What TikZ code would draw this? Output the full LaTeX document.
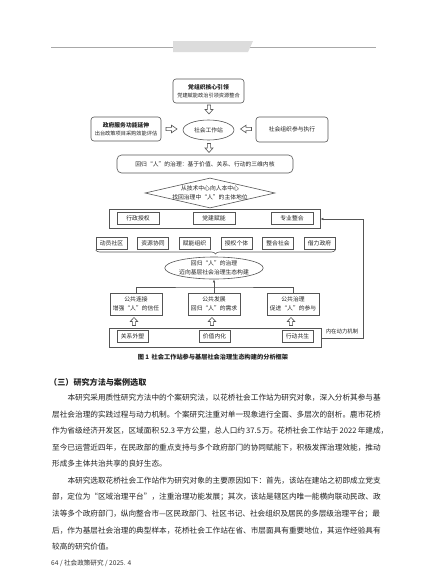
\documentclass[tikz,border=0pt]{standalone}
\usepackage{fontspec}
\setmainfont{Liberation Serif}
\newfontfamily\cjk{Noto Sans CJK SC}
\usetikzlibrary{shapes.geometric,decorations.pathreplacing,arrows.meta,calc}
\XeTeXlinebreaklocale "zh"
\XeTeXlinebreakskip=0pt plus 1pt
\definecolor{dgray}{HTML}{555555}
\definecolor{txt}{HTML}{222222}
\definecolor{rule}{HTML}{A8A8A8}
\definecolor{tab}{HTML}{DCDCDC}
\newcommand{\bodyline}[1]{\makebox[321pt][s]{#1}}
\newcommand{\bodyindent}[1]{\makebox[305.7pt][s]{#1}}
\begin{document}
\begin{tikzpicture}[x=1pt,y=-1pt,font=\cjk\fontsize{5.8}{8.6}\selectfont,
  ln/.style={draw=dgray,line width=0.6pt},
  rbox/.style={ln,rounded corners=3pt,align=center,inner sep=0pt,text=txt},
  sbox/.style={ln,align=center,inner sep=0pt,text=txt,minimum width=31pt,minimum height=12pt},
  ibox/.style={ln,align=center,inner sep=0pt,text=txt,minimum width=42pt,minimum height=12pt},
  tbox/.style={ln,align=center,inner sep=0pt,text=txt,minimum width=52pt,minimum height=22pt},
  arr/.style={ln,-{Latex[length=3pt,width=2.4pt]}},
  body/.style={anchor=west,inner sep=0pt,text=txt,font=\cjk\fontsize{7.64}{10}\selectfont},
  pics/hdown/.style={code={\draw[ln,fill=white] (-1.6,-4.5) -- (1.6,-4.5) -- (1.6,0) -- (4,0) -- (0,4.5) -- (-4,0) -- (-1.6,0) -- cycle;}},
  pics/hup/.style={code={\draw[ln,fill=white] (-1.6,4) -- (1.6,4) -- (1.6,0) -- (3.8,0) -- (0,-4) -- (-3.8,0) -- (-1.6,0) -- cycle;}},
  pics/hright/.style={code={\draw[ln,fill=white] (-5.5,-1.6) -- (-5.5,1.6) -- (0,1.6) -- (0,3.8) -- (5.5,0) -- (0,-3.8) -- (0,-1.6) -- cycle;}},
  pics/hleft/.style={code={\draw[ln,fill=white] (5.5,-1.6) -- (5.5,1.6) -- (0,1.6) -- (0,3.8) -- (-5.5,0) -- (0,-3.8) -- (0,-1.6) -- cycle;}}
]
\useasboundingbox (0,0) rectangle (427,579);
\fill[white] (0,0) rectangle (427,579);

% header rule and tab
\draw[rule,line width=0.8pt] (51,47) -- (376,47);
\fill[tab] (173,41) -- (253,41) -- (248,52) -- (173,52) -- cycle;

% top level
\node[rbox,minimum width=71pt,minimum height=24pt] (party) at (208.5,91)
  {{\bfseries 党组织核心引领}\\[-0.5pt]{\fontsize{5.2}{7}\selectfont 党建赋能政治引领资源整合}};
\node[rbox,minimum width=70pt,minimum height=24pt] (gov) at (126,129)
  {{\bfseries 政府服务功能延伸}\\[-0.5pt]{\fontsize{5.2}{7}\selectfont 出台政策项目采购效能评估}};
\node[rbox,minimum width=72pt,minimum height=25pt] (org) at (292,129.5) {社会组织参与执行};
\node[ln,ellipse,minimum width=51pt,minimum height=20pt,inner sep=0pt,text=txt] (station) at (208.5,130) {社会工作站};

\pic at (209,109.5) {hdown};
\pic at (171.5,129) {hright};
\pic at (246,129) {hleft};
\pic at (209,148) {hdown};

\node[rbox,rounded corners=4.5pt,minimum width=176pt,minimum height=18pt] (core) at (205,164)
  {回归“人”的治理：基于价值、关系、行动的三维内核};

\node[ln,diamond,minimum width=130pt,minimum height=30pt,inner sep=0pt] (dia) at (210,193) {};
\node[align=center,inner sep=0pt,text=txt] (diatext) at (dia.center)
  {从技术中心向人本中心\\找回治理中“人”的主体地位};

% middle frame
\node[ln,minimum width=211pt,minimum height=19pt,inner sep=0pt] (mid) at (214.5,218.5) {};
\node[ibox] (m1) at (138,218) {行政授权};
\node[ibox] (m2) at (214,218) {党建赋能};
\node[ibox] (m3) at (292,218) {专业整合};

% six boxes
\node[sbox] (s1) at (111.5,243) {动员社区};
\node[sbox] (s2) at (153,243) {资源协同};
\node[sbox] (s3) at (194.5,243) {赋能组织};
\node[sbox] (s4) at (236.5,243) {授权个体};
\node[sbox] (s5) at (278,243) {整合社会};
\node[sbox] (s6) at (319.5,243) {借力政府};
\draw[ln,decorate,decoration={brace,mirror,amplitude=4pt}] (s1.south west|-0,250) -- (s6.south east|-0,250);

\node[ln,ellipse,minimum width=92pt,minimum height=22pt,inner sep=0pt,align=center,text=txt] (eco) at (214,268)
  {回归“人”的治理\\迈向基层社会治理生态构建};

% three boxes
\node[tbox] (t1) at (136,304) {公共连接\\增强“人”的信任};
\node[tbox] (t2) at (214,304) {公共发展\\回归“人”的需求};
\node[tbox] (t3) at (293,304) {公共治理\\促进“人”的参与};
\coordinate (tj) at (214,287);
\draw[ln] (t1.north) |- (tj) -| (t3.north);
\draw[ln] (t2.north) -- (tj);
\draw[arr] (tj) -- (eco.south);

\pic at (134,321.5) {hup};
\pic at (212,321.5) {hup};
\pic at (291,321.5) {hup};

% bottom frame
\node[ln,minimum width=212pt,minimum height=19pt,inner sep=0pt] (bot) at (215,337.5) {};
\node[sbox] (b1) at (132.5,336) {关系外塑};
\node[sbox] (b2) at (214.5,336) {价值内化};
\node[sbox] (b3) at (297.5,336) {行动共生};

% feedback loop
\coordinate (fb1) at (363,338);
\coordinate (fb2) at (363,219);
\draw[arr] (bot.east|-fb1) -- (fb1) -- (fb2) -- (mid.east|-fb2);
\node[inner sep=0pt,text=txt,font=\cjk\fontsize{5.4}{7}\selectfont] (loop) at (342,331) {内在动力机制};

% caption
\node[inner sep=0pt,text=txt,font=\cjk\bfseries\fontsize{6.2}{8}\selectfont] (cap) at (213,357)
  {图 1\, 社会工作站参与基层社会治理生态构建的分析框架};

% section heading and body text
\node[body,font=\cjk\bfseries\fontsize{8.1}{10}\selectfont] (head) at (49,382) {（三）研究方法与案例选取};
\node[body] (l1) at (67.3,397.5) {\bodyindent{本研究采用质性研究方法中的个案研究法，以花桥社会工作站为研究对象，深入分析其参与基}};
\node[body] (l2) at (52,414.1) {\bodyline{层社会治理的实践过程与动力机制。个案研究注重对单一现象进行全面、多层次的剖析。鹿市花桥}};
\node[body] (l3) at (52,430.7) {\bodyline{作为省级经济开发区，区域面积 52.3 平方公里，总人口约 37.5 万。花桥社会工作站于 2022 年建成，}};
\node[body] (l4) at (52,447.3) {\bodyline{至今已运营近四年，在民政部的重点支持与多个政府部门的协同赋能下，积极发挥治理效能，推动}};
\node[body] (l5) at (52,463.9) {形成多主体共治共享的良好生态。};
\node[body] (l6) at (67.3,480.5) {\bodyindent{本研究选取花桥社会工作站作为研究对象的主要原因如下：首先，该站在建站之初即成立党支}};
\node[body] (l7) at (52,497.1) {\bodyline{部，定位为“区域治理平台”，注重治理功能发展；其次，该站是辖区内唯一能横向联动民政、政}};
\node[body] (l8) at (52,513.7) {\bodyline{法等多个政府部门，纵向整合市—区民政部门、社区书记、社会组织及居民的多层级治理平台；最}};
\node[body] (l9) at (52,530.3) {\bodyline{后，作为基层社会治理的典型样本，花桥社会工作站在省、市层面具有重要地位，其运作经验具有}};
\node[body] (l10) at (52,546.9) {较高的研究价值。};

% footer
\node[body,font=\cjk\fontsize{6.6}{8}\selectfont,text=black!80] (foot) at (51,563) {64 / 社会政策研究 / 2025. 4};
\end{tikzpicture}
\end{document}
